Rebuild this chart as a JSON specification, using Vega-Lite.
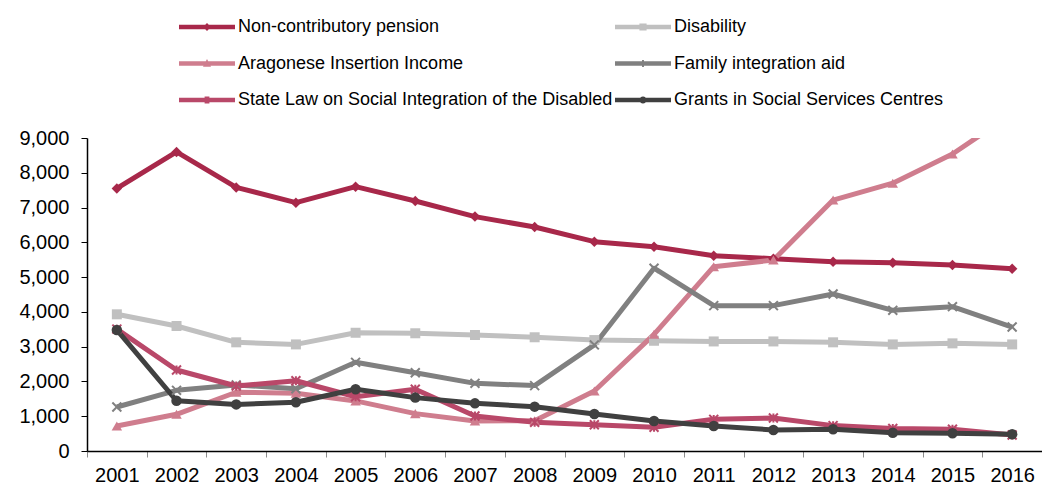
{
  "$schema": "https://vega.github.io/schema/vega-lite/v6.json",
  "autosize": {"type": "none"},
  "padding": {"left": 87, "top": 138, "right": 0, "bottom": 35},
  "width": 955,
  "height": 313,
  "background": "white",
  "config": {
    "view": {"stroke": null},
    "font": "Liberation Sans",
    "legend": {
      "orient": "none", "legendX": 111, "legendY": -120, "columns": 2, "direction": "horizontal",
      "padding": 0, "labelFontSize": 18, "labelColor": "#000000", "labelLimit": 600,
      "labelOffset": 22, "symbolSize": 256, "columnPadding": 2, "rowPadding": 18.5,
      "symbolStrokeWidth": 0, "symbolOpacity": 1
    }
  },
  "datasets": {
    "wide": [
      {"year": "2001", "p": 7550, "d": 3930, "a": 720, "f": 1265, "s": 3505, "g": 3480},
      {"year": "2002", "p": 8600, "d": 3595, "a": 1055, "f": 1745, "s": 2330, "g": 1445},
      {"year": "2003", "p": 7580, "d": 3125, "a": 1690, "f": 1900, "s": 1870, "g": 1340},
      {"year": "2004", "p": 7140, "d": 3065, "a": 1660, "f": 1790, "s": 2020, "g": 1400},
      {"year": "2005", "p": 7600, "d": 3400, "a": 1440, "f": 2550, "s": 1560, "g": 1775},
      {"year": "2006", "p": 7190, "d": 3385, "a": 1075, "f": 2250, "s": 1775, "g": 1535},
      {"year": "2007", "p": 6740, "d": 3335, "a": 865, "f": 1945, "s": 1005, "g": 1370},
      {"year": "2008", "p": 6440, "d": 3270, "a": 870, "f": 1880, "s": 825, "g": 1275},
      {"year": "2009", "p": 6020, "d": 3190, "a": 1725, "f": 3050, "s": 755, "g": 1065},
      {"year": "2010", "p": 5875, "d": 3170, "a": 3355, "f": 5255, "s": 680, "g": 865},
      {"year": "2011", "p": 5615, "d": 3150, "a": 5300, "f": 4180, "s": 910, "g": 720},
      {"year": "2012", "p": 5530, "d": 3150, "a": 5490, "f": 4180, "s": 950, "g": 605},
      {"year": "2013", "p": 5445, "d": 3125, "a": 7215, "f": 4515, "s": 730, "g": 625},
      {"year": "2014", "p": 5415, "d": 3065, "a": 7700, "f": 4045, "s": 650, "g": 525},
      {"year": "2015", "p": 5350, "d": 3095, "a": 8540, "f": 4150, "s": 625, "g": 510},
      {"year": "2016", "p": 5240, "d": 3065, "a": 9700, "f": 3565, "s": 460, "g": 480}
    ]
  },
  "data": {"name": "wide"},
  "transform": [
    {"fold": ["p", "d", "a", "f", "s", "g"], "as": ["key", "value"]},
    {"lookup": "key", "from": {"data": {"values": [
      {"key": "p", "series": "Non-contributory pension"},
      {"key": "d", "series": "Disability"},
      {"key": "a", "series": "Aragonese Insertion Income"},
      {"key": "f", "series": "Family integration aid"},
      {"key": "s", "series": "State Law on Social Integration of the Disabled"},
      {"key": "g", "series": "Grants in Social Services Centres"}
    ]}, "key": "key", "fields": ["series"]}}
  ],
  "encoding": {
    "x": {
      "field": "year", "type": "ordinal",
      "scale": {"type": "band", "paddingInner": 0, "paddingOuter": 0},
      "axis": {
        "title": null, "labelAngle": 0, "labelFontSize": 20, "labelColor": "#000000",
        "labelPadding": 8, "tickBand": "extent", "tickSize": 6, "tickColor": "#8c8c8c",
        "domainColor": "#000000", "domainWidth": 1.5, "grid": false
      }
    },
    "y": {
      "field": "value", "type": "quantitative",
      "scale": {"domain": [0, 9000], "nice": false},
      "axis": {
        "title": null, "values": [0, 1000, 2000, 3000, 4000, 5000, 6000, 7000, 8000, 9000],
        "format": ",.0f", "labelFontSize": 20, "labelColor": "#000000", "labelPadding": 12,
        "tickSize": 6, "tickColor": "#000000", "domainColor": "#000000", "domainWidth": 1.5, "grid": false
      }
    }
  },
  "layer": [
    {
      "mark": {"type": "line", "strokeWidth": 5, "clip": true, "strokeJoin": "round"},
      "encoding": {
        "color": {
          "field": "series", "type": "nominal", "title": null,
          "scale": {
            "domain": ["Non-contributory pension", "Disability", "Aragonese Insertion Income", "Family integration aid", "State Law on Social Integration of the Disabled", "Grants in Social Services Centres"],
            "range": ["#a8284a", "#c0c0c0", "#cf7d8e", "#808080", "#b94869", "#404040"]
          }
        }
      }
    },
    {
      "transform": [{"filter": {"field": "key", "equal": "p"}}],
      "mark": {"type": "point", "shape": "diamond", "filled": true, "size": 110, "color": "#a8284a", "opacity": 1, "clip": true}
    },
    {
      "transform": [{"filter": {"field": "key", "equal": "d"}}],
      "mark": {"type": "point", "shape": "square", "filled": true, "size": 100, "color": "#c0c0c0", "opacity": 1, "clip": true}
    },
    {
      "transform": [{"filter": {"field": "key", "equal": "a"}}],
      "mark": {"type": "point", "shape": "triangle-up", "filled": true, "size": 110, "color": "#cf7d8e", "opacity": 1, "clip": true}
    },
    {
      "transform": [{"filter": {"field": "key", "equal": "f"}}],
      "mark": {"type": "point", "shape": "M-1,-1L1,1M-1,1L1,-1", "filled": false, "size": 80, "strokeWidth": 2, "color": "#808080", "opacity": 1, "clip": true}
    },
    {
      "transform": [{"filter": {"field": "key", "equal": "s"}}],
      "mark": {"type": "point", "shape": "M-1,-1L1,1M-1,1L1,-1M0,-1V1", "filled": false, "size": 80, "strokeWidth": 2, "color": "#b94869", "opacity": 1, "clip": true}
    },
    {
      "transform": [{"filter": {"field": "key", "equal": "g"}}],
      "mark": {"type": "point", "shape": "circle", "filled": true, "size": 110, "color": "#404040", "opacity": 1, "clip": true}
    },
    {
      "mark": {"type": "point", "filled": true, "opacity": 0, "size": 1},
      "encoding": {
        "color": {
          "field": "series", "type": "nominal", "title": null,
          "scale": {
            "domain": ["Non-contributory pension", "Disability", "Aragonese Insertion Income", "Family integration aid", "State Law on Social Integration of the Disabled", "Grants in Social Services Centres"],
            "range": ["#a8284a", "#c0c0c0", "#cf7d8e", "#808080", "#b94869", "#404040"]
          }
        },
        "shape": {
          "field": "series", "type": "nominal", "title": null,
          "scale": {
            "domain": ["Non-contributory pension", "Disability", "Aragonese Insertion Income", "Family integration aid", "State Law on Social Integration of the Disabled", "Grants in Social Services Centres"],
            "range": [
              "M-3.5,-0.28H3.5V0.28H-3.5Z M0,-0.5L0.5,0L0,0.5L-0.5,0Z",
              "M-3.5,-0.28H3.5V0.28H-3.5Z M-0.45,-0.45H0.45V0.45H-0.45Z",
              "M-3.5,-0.28H3.5V0.28H-3.5Z M0,-0.55L0.5,0.4H-0.5Z",
              "M-3.5,-0.28H3.5V0.28H-3.5Z M-0.12,-0.45H0.12V0.45H-0.12Z",
              "M-3.5,-0.28H3.5V0.28H-3.5Z M-0.3,-0.45H0.3V0.45H-0.3Z",
              "M-3.5,-0.28H3.5V0.28H-3.5Z M-0.45,0A0.45,0.45 0 1,1 0.45,0A0.45,0.45 0 1,1 -0.45,0Z"
            ]
          }
        }
      }
    }
  ]
}
